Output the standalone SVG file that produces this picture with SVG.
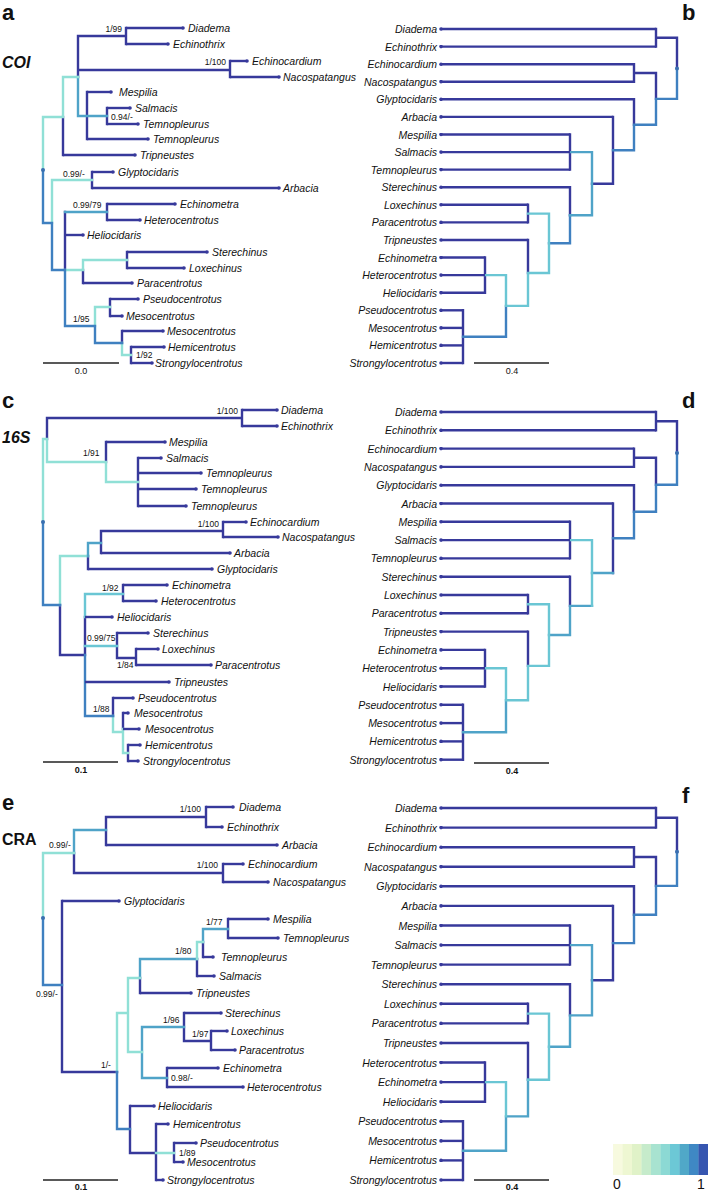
<svg xmlns="http://www.w3.org/2000/svg" width="709" height="1191" viewBox="0 0 709 1191">
<style>
.e{fill:none;stroke-width:2.4;stroke-linecap:square}
.D{stroke:#37399b}.B{stroke:#3f80c0}.M{stroke:#4fa3c8}.C{stroke:#6ac6d4}.L{stroke:#90e0d6}
.t{fill:none;stroke:#37399b;stroke-width:2.4}
.tr{marker-end:url(#tip)}.cl{marker-start:url(#tip)}
text{font-family:"Liberation Sans",Arial,sans-serif;fill:#111}
.lf{font-size:10.5px;font-style:italic}
.le{font-size:10.5px;font-style:italic;text-anchor:end}
.sp{font-size:8.5px}
.spe{font-size:8.5px;text-anchor:end}
.pl{font-size:22px;font-weight:bold}
.gn{font-size:16px;font-weight:bold}
.sc{font-size:9px;text-anchor:middle}
.scb{font-size:9px;font-weight:bold;text-anchor:middle}
.bar{stroke:#222;stroke-width:1.5}
.rd{fill:#3a6fb0}
</style>
<defs>
<marker id="tip" viewBox="-2 -2 4 4" markerWidth="4" markerHeight="4" markerUnits="userSpaceOnUse" refX="0" refY="0"><circle r="1.8" fill="#37399b"/></marker>
</defs>

<!-- ================= Panel a ================= -->
<g id="panel-a">
<text class="pl" x="2" y="20">a</text>
<text class="gn" x="2" y="68" font-style="italic">COI</text>
<g id="a-connectors">
<path class="e D" d="M126 28 V44 M78 36 H126 M78 36 V77 M78 70 H230 M230 61 V77 M87 92 V139 M107 108 V124 M63 117 V155 M92 172 V188 M65 212 V270 M107 204 V220 M83 270 V283 M127 252 V268 M110 299 V316 M122 331 V343 M131 347 V363"/>
<path class="e M" d="M78 77 V116 M78 116 H107 M65 212 H107"/>
<path class="e L" d="M63 77 H78 M63 77 V117 M43 117 H63 M43 117 V170 M52 180 V223 M52 180 H92 M65 270 H83 M83 260 V270 M83 260 H127 M95 307 H110 M95 307 V326 M122 343 V355 M122 355 H131"/>
<path class="e B" d="M43 170 V223 M43 223 H52 M52 223 V270 M52 270 H65 M65 270 V326 M65 326 H95 M95 326 V343 M95 343 H122"/>
<path class="t tr" d="M126 28 H183"/><path class="t tr" d="M126 44 H168"/>
<path class="t tr" d="M230 61 H247"/><path class="t tr" d="M230 77 H279"/>
<path class="t tr" d="M87 92 H111"/><path class="t tr" d="M107 108 H130"/>
<path class="t tr" d="M107 124 H138"/><path class="t tr" d="M87 139 H148"/>
<path class="t tr" d="M63 155 H135"/><path class="t tr" d="M92 172 H113"/>
<path class="t tr" d="M92 188 H279"/><path class="t tr" d="M107 204 H175"/>
<path class="t tr" d="M107 220 H140"/><path class="t tr" d="M65 235 H83"/>
<path class="t tr" d="M127 252 H207"/><path class="t tr" d="M127 268 H184"/>
<path class="t tr" d="M83 283 H132"/><path class="t tr" d="M110 299 H138"/>
<path class="t tr" d="M110 316 H122"/><path class="t tr" d="M122 331 H163"/>
<path class="t tr" d="M131 347 H164"/><path class="t tr" d="M131 363 H152"/>
<circle class="rd" cx="43" cy="170" r="2"/>
</g>
<g id="a-support">
<text class="spe" x="122" y="32">1/99</text>
<text class="spe" x="226" y="65">1/100</text>
<text class="sp" x="111" y="120">0.94/-</text>
<text class="sp" x="63" y="177">0.99/-</text>
<text class="sp" x="73" y="208">0.99/79</text>
<text class="sp" x="73" y="322">1/95</text>
<text class="sp" x="136" y="358">1/92</text>
</g>
<g id="a-Diadema"><text class="lf" x="188" y="32">Diadema</text></g>
<g id="a-Echinothrix"><text class="lf" x="173" y="48">Echinothrix</text></g>
<g id="a-Echinocardium"><text class="lf" x="252" y="65">Echinocardium</text></g>
<g id="a-Nacospatangus"><text class="lf" x="283" y="81">Nacospatangus</text></g>
<g id="a-Mespilia"><text class="lf" x="119" y="96">Mespilia</text></g>
<g id="a-Salmacis"><text class="lf" x="135" y="112">Salmacis</text></g>
<g id="a-Temnopleurus-1"><text class="lf" x="143" y="128">Temnopleurus</text></g>
<g id="a-Temnopleurus-2"><text class="lf" x="153" y="143">Temnopleurus</text></g>
<g id="a-Tripneustes"><text class="lf" x="140" y="159">Tripneustes</text></g>
<g id="a-Glyptocidaris"><text class="lf" x="118" y="176">Glyptocidaris</text></g>
<g id="a-Arbacia"><text class="lf" x="283" y="192">Arbacia</text></g>
<g id="a-Echinometra"><text class="lf" x="180" y="208">Echinometra</text></g>
<g id="a-Heterocentrotus"><text class="lf" x="144" y="224">Heterocentrotus</text></g>
<g id="a-Heliocidaris"><text class="lf" x="87" y="239">Heliocidaris</text></g>
<g id="a-Sterechinus"><text class="lf" x="212" y="256">Sterechinus</text></g>
<g id="a-Loxechinus"><text class="lf" x="189" y="272">Loxechinus</text></g>
<g id="a-Paracentrotus"><text class="lf" x="137" y="287">Paracentrotus</text></g>
<g id="a-Pseudocentrotus"><text class="lf" x="143" y="303">Pseudocentrotus</text></g>
<g id="a-Mesocentrotus-1"><text class="lf" x="126" y="320">Mesocentrotus</text></g>
<g id="a-Mesocentrotus-2"><text class="lf" x="167" y="335">Mesocentrotus</text></g>
<g id="a-Hemicentrotus"><text class="lf" x="168" y="351">Hemicentrotus</text></g>
<g id="a-Strongylocentrotus"><text class="lf" x="155" y="367">Strongylocentrotus</text></g>
<line class="bar" x1="43" y1="363" x2="119" y2="363"/>
<text class="sc" x="81" y="374">0.0</text>
</g>

<!-- ================= Panel b ================= -->
<g id="panel-b">
<text class="pl" x="682" y="20">b</text>
<g id="b-connectors">
<path class="e D" d="M656 29 V46.6 M656 37.8 H677 M677 37.8 V68.4 M634 64.2 V81.7 M634 73 H656 M656 73 V98.9 M634 99.3 V124.8 M613 116.9 V183.7 M592 183.7 H613 M570 134.5 V169.6 M570 187.2 V215.2 M528 204.8 V222.4 M528 240 V273 M485 257.5 V292.7 M463 310.3 V363"/>
<path class="e B" d="M677 68.4 V98.9 M656 98.9 H677 M656 98.9 V124.8 M634 124.8 H656 M634 124.8 V150.3 M613 150.3 H634 M570 215.2 V243.3 M549 243.3 H570 M506 305.9 V336.7 M463 336.7 H506"/>
<path class="e M" d="M592 152.1 V215.2 M570 152.1 H592 M570 215.2 H592"/>
<path class="e C" d="M549 213.6 V273 M528 213.6 H549 M528 273 H549 M528 273 V305.9 M506 305.9 H528 M506 275.1 V305.9 M485 275.1 H506"/>
<path class="t cl" d="M441 29 H656"/><path class="t cl" d="M441 46.6 H656"/>
<path class="t cl" d="M441 64.2 H634"/><path class="t cl" d="M441 81.7 H634"/>
<path class="t cl" d="M441 99.3 H634"/><path class="t cl" d="M441 116.9 H613"/>
<path class="t cl" d="M441 134.5 H570"/><path class="t cl" d="M441 152.1 H570"/>
<path class="t cl" d="M441 169.6 H570"/><path class="t cl" d="M441 187.2 H570"/>
<path class="t cl" d="M441 204.8 H528"/><path class="t cl" d="M441 222.4 H528"/>
<path class="t cl" d="M441 240 H528"/><path class="t cl" d="M441 257.5 H485"/>
<path class="t cl" d="M441 275.1 H485"/><path class="t cl" d="M441 292.7 H485"/>
<path class="t cl" d="M441 310.3 H463"/><path class="t cl" d="M441 327.9 H463"/>
<path class="t cl" d="M441 345.4 H463"/><path class="t cl" d="M441 363 H463"/>
<circle class="rd" cx="677" cy="68.4" r="2"/>
</g>
<g id="b-Diadema"><text class="le" x="437" y="33">Diadema</text></g>
<g id="b-Echinothrix"><text class="le" x="437" y="50.6">Echinothrix</text></g>
<g id="b-Echinocardium"><text class="le" x="437" y="68.2">Echinocardium</text></g>
<g id="b-Nacospatangus"><text class="le" x="437" y="85.7">Nacospatangus</text></g>
<g id="b-Glyptocidaris"><text class="le" x="437" y="103.3">Glyptocidaris</text></g>
<g id="b-Arbacia"><text class="le" x="437" y="120.9">Arbacia</text></g>
<g id="b-Mespilia"><text class="le" x="437" y="138.5">Mespilia</text></g>
<g id="b-Salmacis"><text class="le" x="437" y="156.1">Salmacis</text></g>
<g id="b-Temnopleurus"><text class="le" x="437" y="173.6">Temnopleurus</text></g>
<g id="b-Sterechinus"><text class="le" x="437" y="191.2">Sterechinus</text></g>
<g id="b-Loxechinus"><text class="le" x="437" y="208.8">Loxechinus</text></g>
<g id="b-Paracentrotus"><text class="le" x="437" y="226.4">Paracentrotus</text></g>
<g id="b-Tripneustes"><text class="le" x="437" y="244">Tripneustes</text></g>
<g id="b-Echinometra"><text class="le" x="437" y="261.5">Echinometra</text></g>
<g id="b-Heterocentrotus"><text class="le" x="437" y="279.1">Heterocentrotus</text></g>
<g id="b-Heliocidaris"><text class="le" x="437" y="296.7">Heliocidaris</text></g>
<g id="b-Pseudocentrotus"><text class="le" x="437" y="314.3">Pseudocentrotus</text></g>
<g id="b-Mesocentrotus"><text class="le" x="437" y="331.9">Mesocentrotus</text></g>
<g id="b-Hemicentrotus"><text class="le" x="437" y="349.4">Hemicentrotus</text></g>
<g id="b-Strongylocentrotus"><text class="le" x="437" y="367">Strongylocentrotus</text></g>
<line class="bar" x1="474" y1="363" x2="549" y2="363"/>
<text class="sc" x="512" y="374">0.4</text>
</g>

<!-- ================= Panel c ================= -->
<g id="panel-c">
<text class="pl" x="2" y="408">c</text>
<text class="gn" x="2" y="443" font-style="italic">16S</text>
<g id="c-connectors">
<path class="e D" d="M47 418 H242 M242 410 V426 M47 418 V439 M106 442 V462 M138 458 V506 M223 522 V537 M101 531 H223 M101 531 V553 M88 556 V569 M60 605 V655 M60 655 H85 M85 617 V655 M123 585 V601 M117 633 V658 M117 658 H136 M136 649 V665 M113 698 V716 M123 713 V729 M128 745 V761"/>
<path class="e L" d="M43 439 H47 M47 439 V462 M47 462 H106 M106 462 V482 M106 482 H138 M43 439 V522 M60 556 V605 M60 556 H88 M113 716 V732 M113 732 H123 M123 729 V753 M123 753 H128"/>
<path class="e M" d="M88 543 V556 M88 543 H101"/>
<path class="e C" d="M85 594 V617 M85 594 H123 M85 646 H117"/>
<path class="e B" d="M43 522 V605 M43 605 H60 M85 655 V716 M85 716 H113"/>
<path class="t tr" d="M242 410 H277"/><path class="t tr" d="M242 426 H277"/>
<path class="t tr" d="M106 442 H165"/><path class="t tr" d="M138 458 H161"/>
<path class="t tr" d="M138 473 H201"/><path class="t tr" d="M138 489 H196"/>
<path class="t tr" d="M138 506 H186"/><path class="t tr" d="M223 522 H246"/>
<path class="t tr" d="M223 537 H278"/><path class="t tr" d="M101 553 H230"/>
<path class="t tr" d="M88 569 H212"/><path class="t tr" d="M123 585 H167"/>
<path class="t tr" d="M123 601 H156"/><path class="t tr" d="M85 617 H112"/>
<path class="t tr" d="M117 633 H148"/><path class="t tr" d="M136 649 H158"/>
<path class="t tr" d="M136 665 H211"/><path class="t tr" d="M85 682 H169"/>
<path class="t tr" d="M113 698 H133"/><path class="t tr" d="M123 713 H128"/>
<path class="t tr" d="M123 729 H139"/><path class="t tr" d="M128 745 H140"/>
<path class="t tr" d="M128 761 H138"/>
<circle class="rd" cx="43" cy="522" r="2"/>
</g>
<g id="c-support">
<text class="spe" x="238" y="414">1/100</text>
<text class="sp" x="83" y="456">1/91</text>
<text class="spe" x="219" y="527">1/100</text>
<text class="sp" x="102" y="591">1/92</text>
<text class="sp" x="87" y="641">0.99/75</text>
<text class="sp" x="117" y="668">1/84</text>
<text class="sp" x="93" y="712">1/88</text>
</g>
<g id="c-Diadema"><text class="lf" x="281" y="414">Diadema</text></g>
<g id="c-Echinothrix"><text class="lf" x="281" y="430">Echinothrix</text></g>
<g id="c-Mespilia"><text class="lf" x="169" y="446">Mespilia</text></g>
<g id="c-Salmacis"><text class="lf" x="166" y="462">Salmacis</text></g>
<g id="c-Temnopleurus-1"><text class="lf" x="206" y="477">Temnopleurus</text></g>
<g id="c-Temnopleurus-2"><text class="lf" x="201" y="493">Temnopleurus</text></g>
<g id="c-Temnopleurus-3"><text class="lf" x="191" y="510">Temnopleurus</text></g>
<g id="c-Echinocardium"><text class="lf" x="250" y="526">Echinocardium</text></g>
<g id="c-Nacospatangus"><text class="lf" x="282" y="541">Nacospatangus</text></g>
<g id="c-Arbacia"><text class="lf" x="234" y="557">Arbacia</text></g>
<g id="c-Glyptocidaris"><text class="lf" x="217" y="573">Glyptocidaris</text></g>
<g id="c-Echinometra"><text class="lf" x="172" y="589">Echinometra</text></g>
<g id="c-Heterocentrotus"><text class="lf" x="161" y="605">Heterocentrotus</text></g>
<g id="c-Heliocidaris"><text class="lf" x="117" y="621">Heliocidaris</text></g>
<g id="c-Sterechinus"><text class="lf" x="153" y="637">Sterechinus</text></g>
<g id="c-Loxechinus"><text class="lf" x="162" y="653">Loxechinus</text></g>
<g id="c-Paracentrotus"><text class="lf" x="215" y="669">Paracentrotus</text></g>
<g id="c-Tripneustes"><text class="lf" x="174" y="686">Tripneustes</text></g>
<g id="c-Pseudocentrotus"><text class="lf" x="138" y="702">Pseudocentrotus</text></g>
<g id="c-Mesocentrotus-1"><text class="lf" x="134" y="717">Mesocentrotus</text></g>
<g id="c-Mesocentrotus-2"><text class="lf" x="145" y="733">Mesocentrotus</text></g>
<g id="c-Hemicentrotus"><text class="lf" x="145" y="749">Hemicentrotus</text></g>
<g id="c-Strongylocentrotus"><text class="lf" x="143" y="765">Strongylocentrotus</text></g>
<line class="bar" x1="43" y1="762" x2="118" y2="762"/>
<text class="scb" x="81" y="773">0.1</text>
</g>

<!-- ================= Panel d ================= -->
<g id="panel-d">
<text class="pl" x="682" y="408">d</text>
<g id="d-connectors">
<path class="e D" d="M656 412 V430.3 M656 421.2 H677 M677 421.2 V453 M634 448.6 V466.9 M634 457.8 H656 M656 457.8 V484.8 M634 485.2 V511.7 M613 503.5 V573 M570 521.8 V558.4 M570 576.7 V605.9 M528 595 V613.3 M528 631.6 V665.9 M485 649.9 V686.5 M463 704.8 V759.7"/>
<path class="e B" d="M677 453 V484.8 M656 484.8 H677 M656 484.8 V511.7 M634 511.7 H656 M634 511.7 V538.3 M613 538.3 H634"/>
<path class="e M" d="M592 573 H613 M570 605.9 H592 M570 605.9 V635 M549 635 H570 M506 700.2 V732.3 M463 732.3 H506"/>
<path class="e C" d="M592 540.1 V605.9 M570 540.1 H592 M549 604.2 V665.9 M528 604.2 H549 M528 665.9 H549 M528 665.9 V700.2 M506 700.2 H528 M506 668.2 V700.2 M485 668.2 H506"/>
<path class="t cl" d="M441 412 H656"/><path class="t cl" d="M441 430.3 H656"/>
<path class="t cl" d="M441 448.6 H634"/><path class="t cl" d="M441 466.9 H634"/>
<path class="t cl" d="M441 485.2 H634"/><path class="t cl" d="M441 503.5 H613"/>
<path class="t cl" d="M441 521.8 H570"/><path class="t cl" d="M441 540.1 H570"/>
<path class="t cl" d="M441 558.4 H570"/><path class="t cl" d="M441 576.7 H570"/>
<path class="t cl" d="M441 595 H528"/><path class="t cl" d="M441 613.3 H528"/>
<path class="t cl" d="M441 631.6 H528"/><path class="t cl" d="M441 649.9 H485"/>
<path class="t cl" d="M441 668.2 H485"/><path class="t cl" d="M441 686.5 H485"/>
<path class="t cl" d="M441 704.8 H463"/><path class="t cl" d="M441 723.1 H463"/>
<path class="t cl" d="M441 741.4 H463"/><path class="t cl" d="M441 759.7 H463"/>
<circle class="rd" cx="677" cy="453" r="2"/>
</g>
<g id="d-Diadema"><text class="le" x="437" y="416">Diadema</text></g>
<g id="d-Echinothrix"><text class="le" x="437" y="434.3">Echinothrix</text></g>
<g id="d-Echinocardium"><text class="le" x="437" y="452.6">Echinocardium</text></g>
<g id="d-Nacospatangus"><text class="le" x="437" y="470.9">Nacospatangus</text></g>
<g id="d-Glyptocidaris"><text class="le" x="437" y="489.2">Glyptocidaris</text></g>
<g id="d-Arbacia"><text class="le" x="437" y="507.5">Arbacia</text></g>
<g id="d-Mespilia"><text class="le" x="437" y="525.8">Mespilia</text></g>
<g id="d-Salmacis"><text class="le" x="437" y="544.1">Salmacis</text></g>
<g id="d-Temnopleurus"><text class="le" x="437" y="562.4">Temnopleurus</text></g>
<g id="d-Sterechinus"><text class="le" x="437" y="580.7">Sterechinus</text></g>
<g id="d-Loxechinus"><text class="le" x="437" y="599">Loxechinus</text></g>
<g id="d-Paracentrotus"><text class="le" x="437" y="617.3">Paracentrotus</text></g>
<g id="d-Tripneustes"><text class="le" x="437" y="635.6">Tripneustes</text></g>
<g id="d-Echinometra"><text class="le" x="437" y="653.9">Echinometra</text></g>
<g id="d-Heterocentrotus"><text class="le" x="437" y="672.2">Heterocentrotus</text></g>
<g id="d-Heliocidaris"><text class="le" x="437" y="690.5">Heliocidaris</text></g>
<g id="d-Pseudocentrotus"><text class="le" x="437" y="708.8">Pseudocentrotus</text></g>
<g id="d-Mesocentrotus"><text class="le" x="437" y="727.1">Mesocentrotus</text></g>
<g id="d-Hemicentrotus"><text class="le" x="437" y="745.4">Hemicentrotus</text></g>
<g id="d-Strongylocentrotus"><text class="le" x="437" y="763.7">Strongylocentrotus</text></g>
<line class="bar" x1="474" y1="763" x2="549" y2="763"/>
<text class="scb" x="512" y="774">0.4</text>
</g>

<!-- ================= Panel e ================= -->
<g id="panel-e">
<text class="pl" x="2" y="810">e</text>
<text class="gn" x="2" y="845">CRA</text>
<g id="e-connectors">
<path class="e D" d="M206 807 V827 M106 817 H206 M106 817 V845 M74 853 V873 M74 873 H223 M223 864 V882 M62 901 V1072 M62 1072 H117 M228 919 V938 M203 942 V957 M197 959 V976 M140 978 V993 M184 1013 V1041 M184 1041 H211 M211 1031 V1050 M167 1068 V1087 M130 1106 V1153 M130 1153 H156 M156 1124 V1180 M174 1143 V1162"/>
<path class="e M" d="M74 830 H106 M74 830 V853 M140 959 V978 M140 959 H197 M203 929 V942 M203 929 H228 M142 1027 V1078 M142 1027 H184 M142 1078 H167"/>
<path class="e L" d="M43 853 H74 M43 853 V918 M117 1013 V1072 M117 1013 H128 M128 978 V1052 M128 978 H140 M128 1052 H142 M197 942 V959 M197 942 H203 M156 1153 H174"/>
<path class="e B" d="M43 918 V985 M43 985 H62 M117 1072 V1129 M117 1129 H130"/>
<path class="t tr" d="M206 807 H233"/><path class="t tr" d="M206 827 H222"/>
<path class="t tr" d="M106 845 H277"/><path class="t tr" d="M223 864 H243"/>
<path class="t tr" d="M223 882 H268"/><path class="t tr" d="M62 901 H119"/>
<path class="t tr" d="M228 919 H268"/><path class="t tr" d="M228 938 H278"/>
<path class="t tr" d="M203 957 H213"/><path class="t tr" d="M197 976 H214"/>
<path class="t tr" d="M140 993 H191"/><path class="t tr" d="M184 1013 H221"/>
<path class="t tr" d="M211 1031 H227"/><path class="t tr" d="M211 1050 H235"/>
<path class="t tr" d="M167 1068 H218"/><path class="t tr" d="M167 1087 H243"/>
<path class="t tr" d="M130 1106 H154"/><path class="t tr" d="M156 1124 H168"/>
<path class="t tr" d="M174 1143 H196"/><path class="t tr" d="M174 1162 H183"/>
<path class="t tr" d="M156 1180 H163"/>
<circle class="rd" cx="43" cy="918" r="2"/>
</g>
<g id="e-support">
<text class="spe" x="201" y="812">1/100</text>
<text class="sp" x="49" y="848">0.99/-</text>
<text class="spe" x="218" y="868">1/100</text>
<text class="sp" x="206" y="925">1/77</text>
<text class="sp" x="175" y="954">1/80</text>
<text class="sp" x="36" y="997">0.99/-</text>
<text class="sp" x="163" y="1023">1/96</text>
<text class="sp" x="192" y="1037">1/97</text>
<text class="sp" x="101" y="1068">1/-</text>
<text class="sp" x="171" y="1081">0.98/-</text>
<text class="sp" x="179" y="1156">1/89</text>
</g>
<g id="e-Diadema"><text class="lf" x="239" y="811">Diadema</text></g>
<g id="e-Echinothrix"><text class="lf" x="227" y="831">Echinothrix</text></g>
<g id="e-Arbacia"><text class="lf" x="282" y="849">Arbacia</text></g>
<g id="e-Echinocardium"><text class="lf" x="248" y="868">Echinocardium</text></g>
<g id="e-Nacospatangus"><text class="lf" x="273" y="886">Nacospatangus</text></g>
<g id="e-Glyptocidaris"><text class="lf" x="124" y="905">Glyptocidaris</text></g>
<g id="e-Mespilia"><text class="lf" x="273" y="923">Mespilia</text></g>
<g id="e-Temnopleurus-1"><text class="lf" x="283" y="942">Temnopleurus</text></g>
<g id="e-Temnopleurus-2"><text class="lf" x="221" y="961">Temnopleurus</text></g>
<g id="e-Salmacis"><text class="lf" x="219" y="980">Salmacis</text></g>
<g id="e-Tripneustes"><text class="lf" x="196" y="997">Tripneustes</text></g>
<g id="e-Sterechinus"><text class="lf" x="225" y="1017">Sterechinus</text></g>
<g id="e-Loxechinus"><text class="lf" x="231" y="1035">Loxechinus</text></g>
<g id="e-Paracentrotus"><text class="lf" x="239" y="1054">Paracentrotus</text></g>
<g id="e-Echinometra"><text class="lf" x="223" y="1072">Echinometra</text></g>
<g id="e-Heterocentrotus"><text class="lf" x="247" y="1091">Heterocentrotus</text></g>
<g id="e-Heliocidaris"><text class="lf" x="158" y="1110">Heliocidaris</text></g>
<g id="e-Hemicentrotus"><text class="lf" x="173" y="1128">Hemicentrotus</text></g>
<g id="e-Pseudocentrotus"><text class="lf" x="200" y="1147">Pseudocentrotus</text></g>
<g id="e-Mesocentrotus"><text class="lf" x="187" y="1166">Mesocentrotus</text></g>
<g id="e-Strongylocentrotus"><text class="lf" x="167" y="1184">Strongylocentrotus</text></g>
<line class="bar" x1="43" y1="1180" x2="118" y2="1180"/>
<text class="scb" x="81" y="1190">0.1</text>
</g>

<!-- ================= Panel f ================= -->
<g id="panel-f">
<text class="pl" x="682" y="803">f</text>
<g id="f-connectors">
<path class="e D" d="M656 808 V827.6 M656 817.8 H677 M677 817.8 V851.8 M634 847.2 V866.7 M634 857 H656 M656 857 V885.9 M634 886.3 V914.7 M613 905.9 V980.3 M592 980.3 H613 M570 925.5 V964.6 M570 984.2 V1015.4 M528 1003.8 V1023.4 M528 1043 V1079.7 M485 1062.5 V1101.7 M463 1121.3 V1180"/>
<path class="e B" d="M677 851.8 V885.9 M656 885.9 H677 M656 885.9 V914.7 M634 914.7 H656 M634 914.7 V943.1 M613 943.1 H634"/>
<path class="e M" d="M592 945.1 V1015.4 M570 945.1 H592 M570 1015.4 H592 M570 1015.4 V1046.7 M549 1046.7 H570 M528 1079.7 V1116.4 M506 1116.4 H528 M506 1116.4 V1150.7 M463 1150.7 H506"/>
<path class="e C" d="M549 1013.6 V1079.7 M528 1013.6 H549 M528 1079.7 H549 M506 1082.1 V1116.4 M485 1082.1 H506"/>
<path class="t cl" d="M441 808 H656"/><path class="t cl" d="M441 827.6 H656"/>
<path class="t cl" d="M441 847.2 H634"/><path class="t cl" d="M441 866.7 H634"/>
<path class="t cl" d="M441 886.3 H634"/><path class="t cl" d="M441 905.9 H613"/>
<path class="t cl" d="M441 925.5 H570"/><path class="t cl" d="M441 945.1 H570"/>
<path class="t cl" d="M441 964.6 H570"/><path class="t cl" d="M441 984.2 H570"/>
<path class="t cl" d="M441 1003.8 H528"/><path class="t cl" d="M441 1023.4 H528"/>
<path class="t cl" d="M441 1043 H528"/><path class="t cl" d="M441 1062.5 H485"/>
<path class="t cl" d="M441 1082.1 H485"/><path class="t cl" d="M441 1101.7 H485"/>
<path class="t cl" d="M441 1121.3 H463"/><path class="t cl" d="M441 1140.9 H463"/>
<path class="t cl" d="M441 1160.4 H463"/><path class="t cl" d="M441 1180 H463"/>
<circle class="rd" cx="677" cy="851.8" r="2"/>
</g>
<g id="f-Diadema"><text class="le" x="437" y="812">Diadema</text></g>
<g id="f-Echinothrix"><text class="le" x="437" y="831.6">Echinothrix</text></g>
<g id="f-Echinocardium"><text class="le" x="437" y="851.2">Echinocardium</text></g>
<g id="f-Nacospatangus"><text class="le" x="437" y="870.7">Nacospatangus</text></g>
<g id="f-Glyptocidaris"><text class="le" x="437" y="890.3">Glyptocidaris</text></g>
<g id="f-Arbacia"><text class="le" x="437" y="909.9">Arbacia</text></g>
<g id="f-Mespilia"><text class="le" x="437" y="929.5">Mespilia</text></g>
<g id="f-Salmacis"><text class="le" x="437" y="949.1">Salmacis</text></g>
<g id="f-Temnopleurus"><text class="le" x="437" y="968.6">Temnopleurus</text></g>
<g id="f-Sterechinus"><text class="le" x="437" y="988.2">Sterechinus</text></g>
<g id="f-Loxechinus"><text class="le" x="437" y="1007.8">Loxechinus</text></g>
<g id="f-Paracentrotus"><text class="le" x="437" y="1027.4">Paracentrotus</text></g>
<g id="f-Tripneustes"><text class="le" x="437" y="1047">Tripneustes</text></g>
<g id="f-Heterocentrotus"><text class="le" x="437" y="1066.5">Heterocentrotus</text></g>
<g id="f-Echinometra"><text class="le" x="437" y="1086.1">Echinometra</text></g>
<g id="f-Heliocidaris"><text class="le" x="437" y="1105.7">Heliocidaris</text></g>
<g id="f-Pseudocentrotus"><text class="le" x="437" y="1125.3">Pseudocentrotus</text></g>
<g id="f-Mesocentrotus"><text class="le" x="437" y="1144.9">Mesocentrotus</text></g>
<g id="f-Hemicentrotus"><text class="le" x="437" y="1164.4">Hemicentrotus</text></g>
<g id="f-Strongylocentrotus"><text class="le" x="437" y="1184">Strongylocentrotus</text></g>
<line class="bar" x1="474" y1="1180" x2="549" y2="1180"/>
<text class="scb" x="512" y="1190">0.4</text>
</g>

<!-- ================= Legend ================= -->
<g id="legend">
<rect x="613" y="1144" width="9.8" height="31" fill="#f7fadf"/>
<rect x="622.5" y="1144" width="9.8" height="31" fill="#eef7d2"/>
<rect x="632" y="1144" width="9.8" height="31" fill="#e0f2c8"/>
<rect x="641.5" y="1144" width="9.8" height="31" fill="#c6ebcb"/>
<rect x="651" y="1144" width="9.8" height="31" fill="#a8e3d0"/>
<rect x="660.5" y="1144" width="9.8" height="31" fill="#8cd9d4"/>
<rect x="670" y="1144" width="9.8" height="31" fill="#6cc8d6"/>
<rect x="679.5" y="1144" width="9.8" height="31" fill="#50a8c8"/>
<rect x="689" y="1144" width="9.8" height="31" fill="#3f88c4"/>
<rect x="698.5" y="1144" width="9.5" height="31" fill="#3656b0"/>
<text x="613" y="1189" font-size="14">0</text>
<text x="697" y="1189" font-size="14">1</text>
</g>
</svg>
